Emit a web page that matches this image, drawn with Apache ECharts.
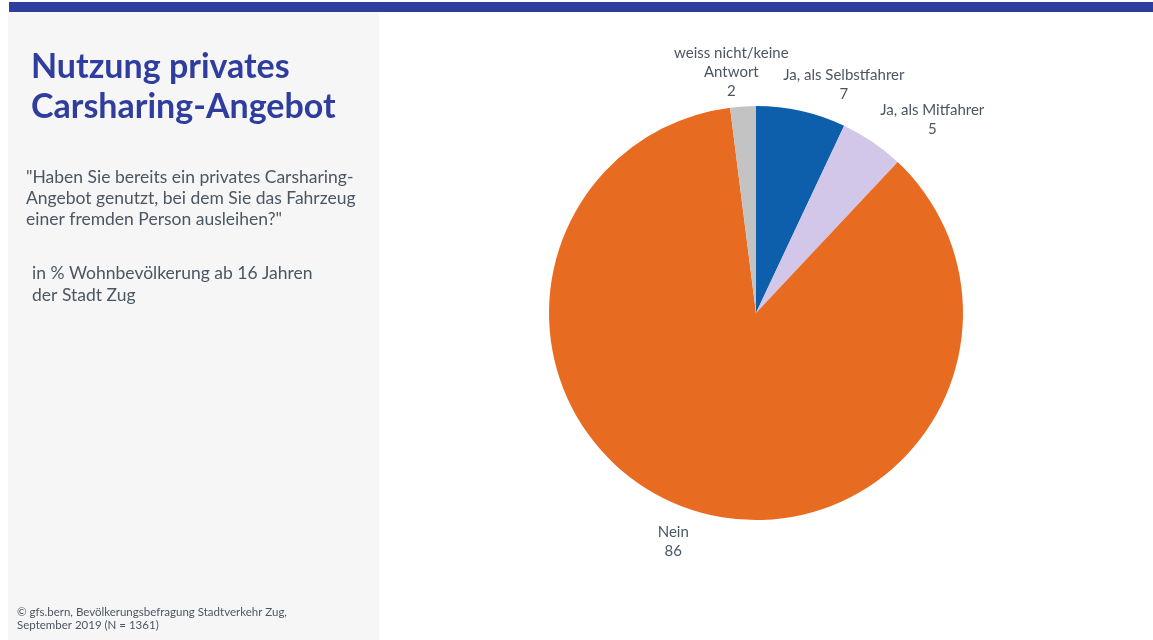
<!DOCTYPE html>
<html>
<head>
<meta charset="utf-8">
<script src="https://cdn.jsdelivr.net/npm/echarts@6/dist/echarts.min.js"></script>
<style>
  html, body { margin: 0; padding: 0; background: #ffffff; }
  #chart { width: 1153px; height: 640px; }
</style>
</head>
<body>
<div id="chart"></div>
<script>
// Survey answers, in drawing order (clockwise from 12 o'clock)
const categories = ['Ja, als Selbstfahrer', 'Ja, als Mitfahrer', 'Nein', 'weiss nicht/keine\nAntwort'];
const values = [7, 5, 86, 2];
const colors = ['#0e5fab', '#d2c7e9', '#e86b22', '#c3c3c3'];

const FONT = 'Lato, "Open Sans", sans-serif';
const TEXT = '#4b5663';
const PIE_CX = 756, PIE_CY = 313, PIE_R = 207;

const total = values.reduce((a, b) => a + b, 0);
// mid angle of each slice, measured clockwise from the top
const midAngles = [];
let acc = 0;
values.forEach(v => { midAngles.push((acc + v / 2) / total * 2 * Math.PI); acc += v; });

const chart = echarts.init(document.getElementById('chart'));
chart.setOption({
  backgroundColor: '#ffffff',
  animation: false,
  graphic: [
    { type: 'rect', shape: { x: 9, y: 2, width: 1144, height: 10 }, style: { fill: '#2f3e9e' }, silent: true },
    { type: 'rect', shape: { x: 8, y: 12, width: 371, height: 628 }, style: { fill: '#f6f6f6' }, silent: true },
    { type: 'text', left: 31, top: 47, style: { text: 'Nutzung privates\nCarsharing-Angebot', font: 'bold 34px ' + FONT, fill: '#2f3e9e', lineHeight: 40 } },
    { type: 'text', left: 26, top: 167, style: { text: '"Haben Sie bereits ein privates Carsharing-\nAngebot genutzt, bei dem Sie das Fahrzeug\neiner fremden Person ausleihen?"', font: '17.5px ' + FONT, fill: TEXT, lineHeight: 21 } },
    { type: 'text', left: 32, top: 262, style: { text: 'in % Wohnbevölkerung ab 16 Jahren\nder Stadt Zug', font: '17.5px ' + FONT, fill: TEXT, lineHeight: 22 } },
    { type: 'text', left: 17, top: 606, style: { text: '© gfs.bern, Bevölkerungsbefragung Stadtverkehr Zug,\nSeptember 2019 (N = 1361)', font: '11.5px ' + FONT, fill: TEXT, lineHeight: 13 } }
  ],
  series: [{
    type: 'pie',
    center: [PIE_CX, PIE_CY],
    radius: PIE_R,
    startAngle: 90,
    clockwise: true,
    silent: true,
    itemStyle: { borderWidth: 0 },
    label: {
      show: true,
      position: 'outside',
      formatter: p => p.name + '\n' + p.value,
      fontFamily: FONT,
      fontSize: 15,
      lineHeight: 19,
      color: TEXT
    },
    labelLine: { show: false },
    // place each label just outside its slice, shifted by its own size
    labelLayout: function (params) {
      const a = midAngles[params.dataIndex];
      const s = Math.sin(a), c = Math.cos(a);
      const w = params.labelRect.width, h = params.labelRect.height;
      const d = PIE_R + 14;
      const ax = PIE_CX + d * s, ay = PIE_CY - d * c;
      const kx = Math.sign(s) * Math.min(1, Math.abs(s) * 3);
      const ky = c > 0 ? 0.7 : 1;
      return {
        x: ax + kx * w / 2,
        y: ay - ky * c * h / 2,
        align: 'center',
        verticalAlign: 'middle'
      };
    },
    data: categories.map((n, i) => ({ name: n, value: values[i], itemStyle: { color: colors[i] } }))
  }]
});
</script>
</body>
</html>
